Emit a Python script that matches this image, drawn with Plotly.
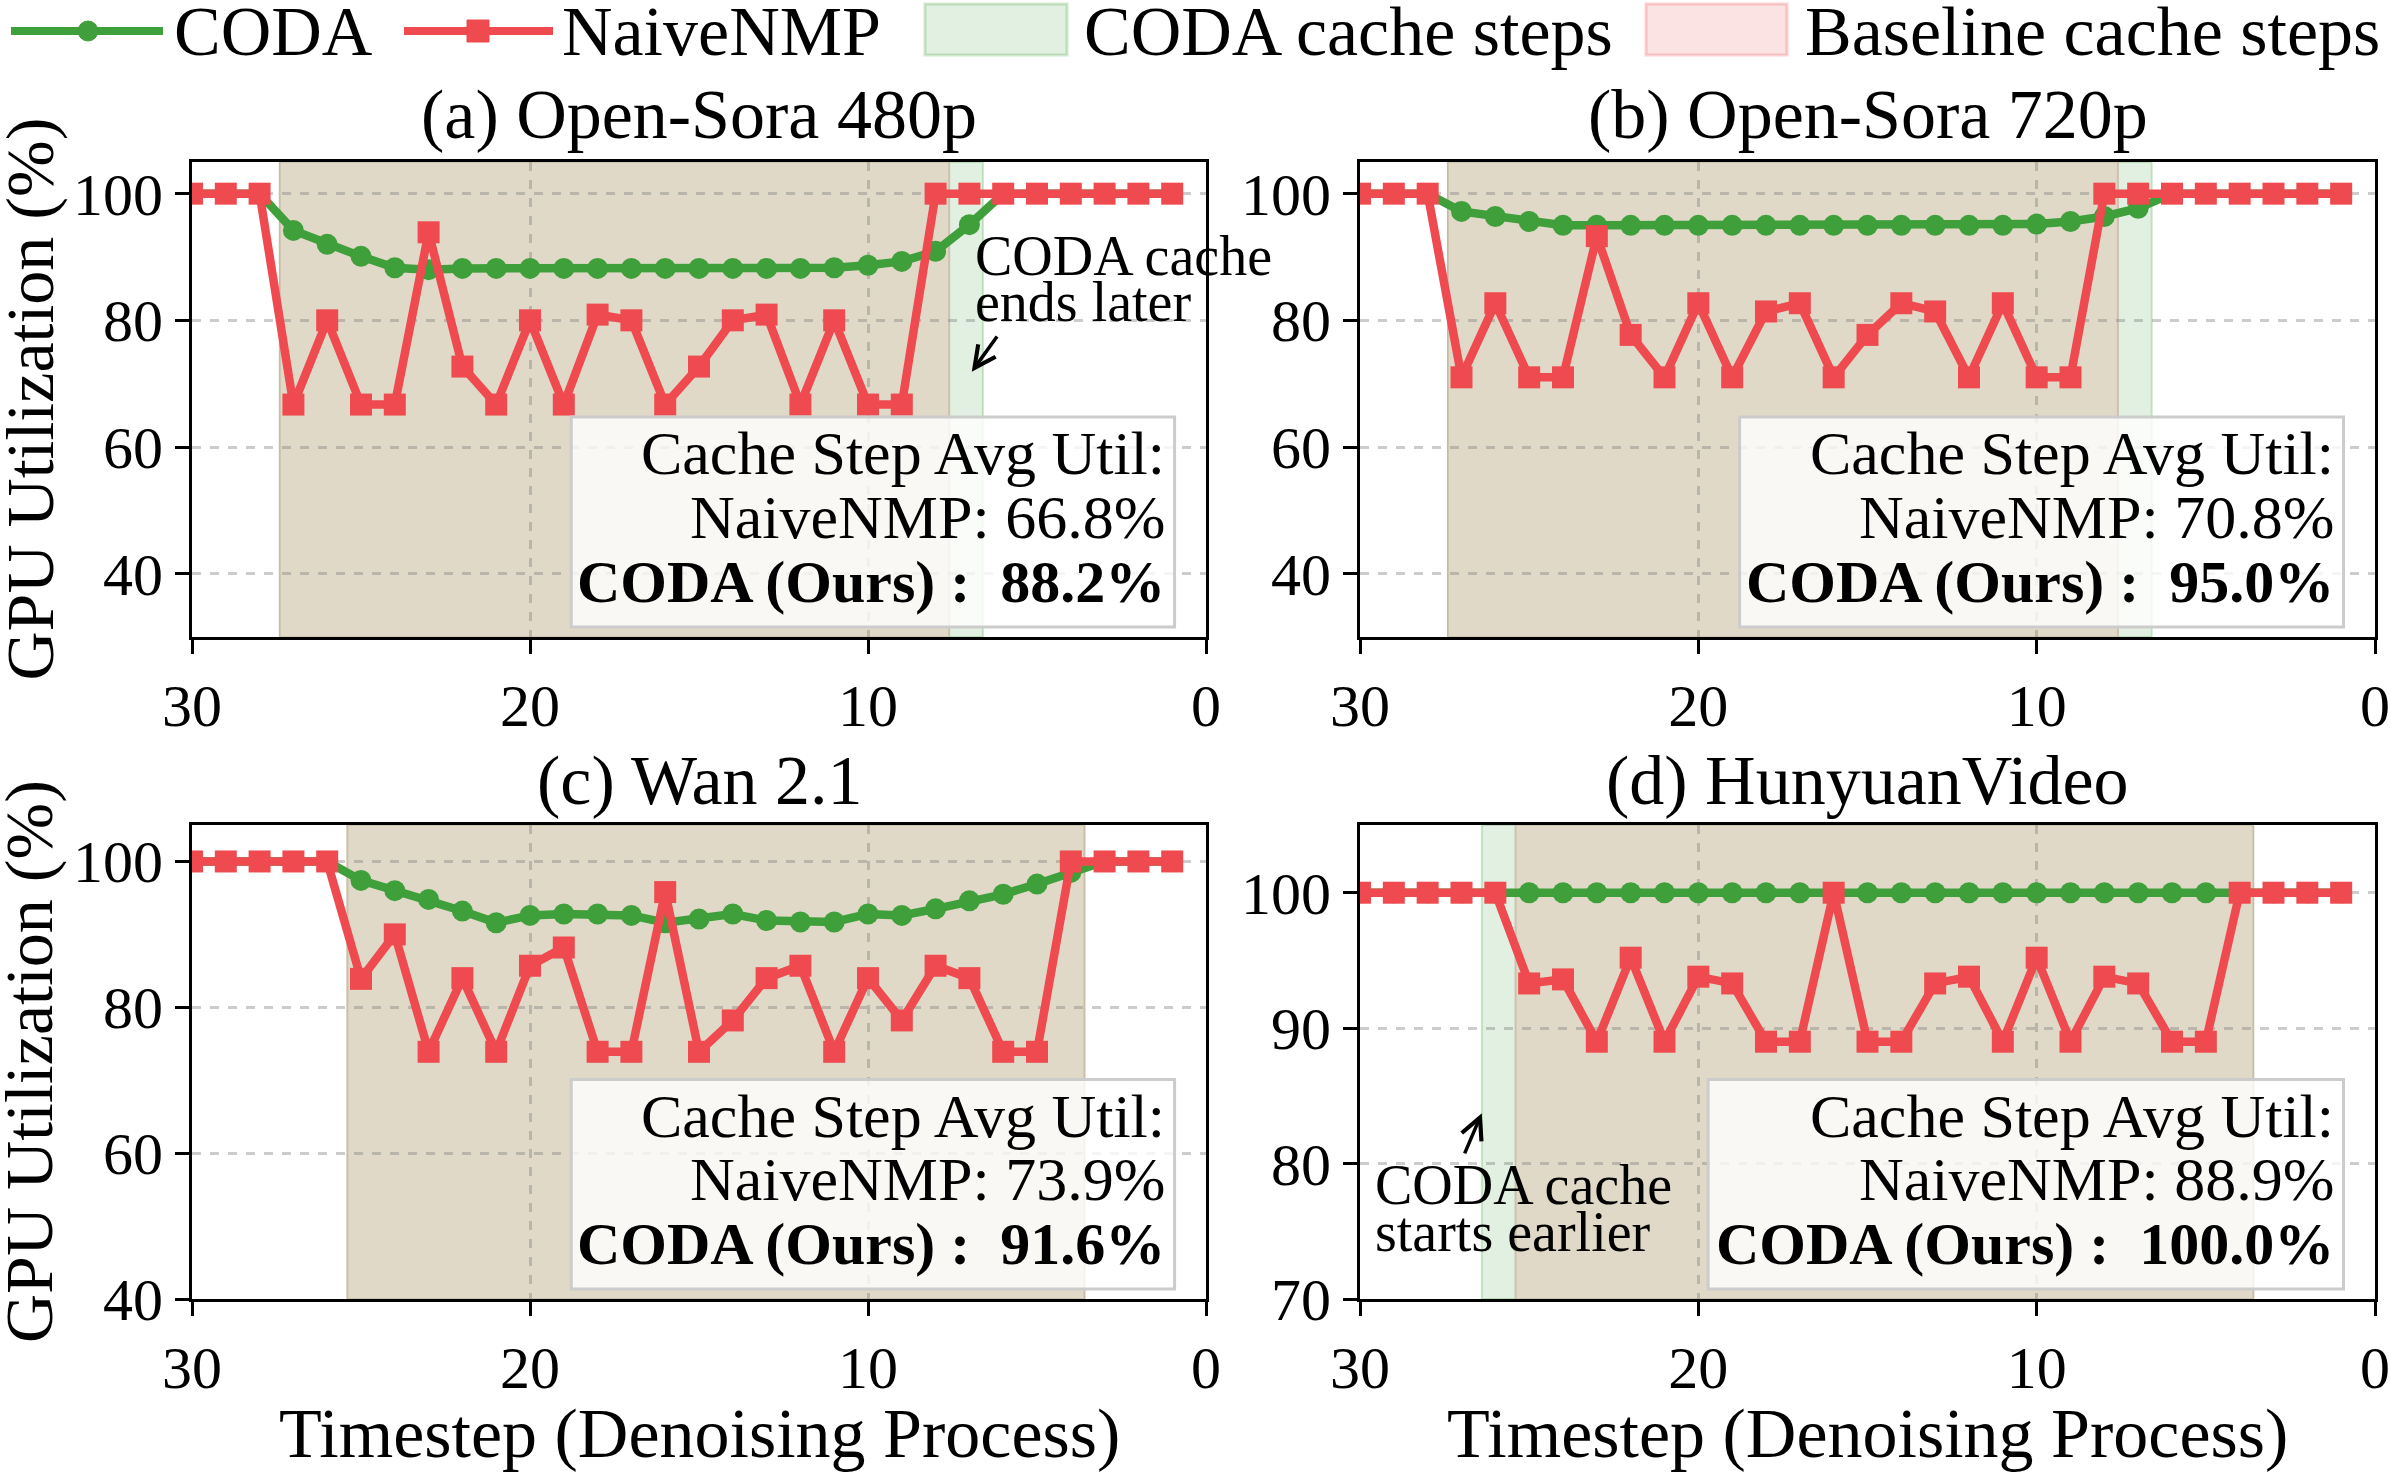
import plotly.graph_objects as go
from plotly.subplots import make_subplots

# ---------------- data ----------------
steps = [30, 29, 28, 27, 26, 25, 24, 23, 22, 21, 20, 19, 18, 17, 16,
         15, 14, 13, 12, 11, 10, 9, 8, 7, 6, 5, 4, 3, 2, 1]

coda_a = [100, 100, 100, 94.2, 92.0, 90.1, 88.3, 88.0, 88.2, 88.2, 88.2, 88.2, 88.2, 88.2, 88.2,
          88.2, 88.2, 88.2, 88.2, 88.3, 88.7, 89.3, 90.9, 95.1, 100, 100, 100, 100, 100, 100]
naive_a = [100, 100, 100, 66.7, 80.0, 66.7, 66.7, 93.9, 72.7, 66.7, 80.0, 66.7, 80.9, 80.0, 66.7,
           72.7, 80.0, 80.9, 66.7, 80.0, 66.7, 66.7, 100, 100, 100, 100, 100, 100, 100, 100]

coda_b = [100, 100, 100, 97.2, 96.4, 95.6, 95.0, 95.0, 95.0, 95.0, 95.0, 95.0, 95.0, 95.0, 95.0,
          95.0, 95.0, 95.0, 95.0, 95.0, 95.2, 95.6, 96.4, 97.7, 100, 100, 100, 100, 100, 100]
naive_b = [100, 100, 100, 71.0, 82.7, 71.0, 71.0, 93.3, 77.7, 71.0, 82.7, 71.0, 81.4, 82.7, 71.0,
           77.7, 82.7, 81.4, 71.0, 82.7, 71.0, 71.0, 100, 100, 100, 100, 100, 100, 100, 100]

coda_c = [100, 100, 100, 100, 100, 97.4, 96.0, 94.8, 93.2, 91.6, 92.6, 92.8, 92.8, 92.6, 91.6,
          92.1, 92.8, 91.9, 91.7, 91.7, 92.8, 92.6, 93.5, 94.6, 95.5, 96.9, 98.5, 100, 100, 100]
naive_c = [100, 100, 100, 100, 100, 83.9, 90.0, 73.9, 84.0, 73.9, 85.7, 88.2, 73.9, 73.9, 95.8,
           73.9, 78.2, 84.0, 85.7, 73.9, 84.0, 78.2, 85.7, 84.0, 73.9, 73.9, 100, 100, 100, 100]

coda_d = [100] * 30
naive_d = [100, 100, 100, 100, 100, 93.3, 93.6, 89.0, 95.2, 89.0, 93.8, 93.3, 89.0, 89.0, 100,
           89.0, 89.0, 93.3, 93.8, 89.0, 95.2, 89.0, 93.8, 93.3, 89.0, 89.0, 100, 100, 100, 100]

titles = ["(a) Open-Sora 480p", "(b) Open-Sora 720p", "(c) Wan 2.1", "(d) HunyuanVideo"]
baseline_spans = [(27.4, 7.6), (27.4, 7.6), (25.4, 3.6), (25.4, 3.6)]
coda_spans = [(27.4, 6.6), (27.4, 6.6), (25.4, 3.6), (26.4, 3.6)]
naive_avg = ["66.8%", "70.8%", "73.9%", "88.9%"]
coda_avg = ["88.2%", "95.0%", "91.6%", "100.0%"]
y_ranges = [(30, 105), (30, 105), (40, 105), (70, 105)]
y_ticks = [[40, 60, 80, 100], [40, 60, 80, 100], [40, 60, 80, 100], [70, 80, 90, 100]]
x_ticks = [30, 20, 10, 0]
legend_labels = ["CODA", "NaiveNMP", "CODA cache steps", "Baseline cache steps"]

# ---------------- style ----------------
W, H = 2390, 1473
FONT = "Liberation Serif, Times New Roman, serif"
GREEN = "#3f9f3a"
RED = "#ee4a4f"
GREEN_FILL = "#e1f0e1"
RED_FILL = "#fbe3e3"
OVERLAP_FILL = "#e0d9c8"

xdoms = [[192 / W, 1206 / W], [1360 / W, 2375 / W]]
ydoms = [[1 - 637 / H, 1 - 162 / H], [1 - 1299 / H, 1 - 825 / H]]

fig = make_subplots(rows=2, cols=2)

series = [(coda_a, naive_a), (coda_b, naive_b), (coda_c, naive_c), (coda_d, naive_d)]
box_left = [0.374, 0.374, 0.374, 0.343]

for i, (coda, naive) in enumerate(series):
    r, c = i // 2 + 1, i % 2 + 1
    fig.add_trace(go.Scatter(x=steps, y=coda, mode="lines+markers", name=legend_labels[0],
                             line=dict(color=GREEN, width=8.5),
                             marker=dict(symbol="circle", size=21, color=GREEN),
                             showlegend=False),
                  row=r, col=c)
    fig.add_trace(go.Scatter(x=steps, y=naive, mode="lines+markers", name=legend_labels[1],
                             line=dict(color=RED, width=8.5),
                             marker=dict(symbol="square", size=22, color=RED),
                             showlegend=False),
                  row=r, col=c)

    xa = "x" if i == 0 else f"x{i+1}"
    ya = "y" if i == 0 else f"y{i+1}"
    b0, b1 = baseline_spans[i]
    g0, g1 = coda_spans[i]
    fig.add_shape(type="rect", xref=xa, yref=f"{ya} domain", x0=g0, x1=g1, y0=0, y1=1,
                  fillcolor=GREEN_FILL, line=dict(color="rgba(67,160,60,0.25)", width=2),
                  layer="below")
    fig.add_shape(type="rect", xref=xa, yref=f"{ya} domain", x0=b0, x1=b1, y0=0, y1=1,
                  fillcolor=RED_FILL, line=dict(color="rgba(238,74,79,0.2)", width=2),
                  layer="below")
    lo_ = max(min(b0, b1), min(g0, g1))
    hi_ = min(max(b0, b1), max(g0, g1))
    if hi_ > lo_:
        fig.add_shape(type="rect", xref=xa, yref=f"{ya} domain", x0=lo_, x1=hi_, y0=0, y1=1,
                      fillcolor=OVERLAP_FILL, line=dict(color="rgba(170,160,130,0.35)", width=2),
                      layer="below")

    # info box
    fig.add_shape(type="rect", xref=f"{xa} domain", yref=f"{ya} domain",
                  x0=box_left[i], x1=0.969, y0=0.021, y1=0.463,
                  fillcolor="rgba(255,255,255,0.8)", line=dict(color="#cccccc", width=3),
                  layer="above")
    lines = ["Cache Step Avg Util:", f"NaiveNMP: {naive_avg[i]}",
             f"<b>CODA (Ours)\u00a0:\u00a0 {coda_avg[i]}</b>"]
    sizes = [62, 62, 60]
    for txt, yy, fs in zip(lines, [0.387, 0.253, 0.116], sizes):
        fig.add_annotation(xref=f"{xa} domain", yref=f"{ya} domain", x=0.962, y=yy,
                           xanchor="right", yanchor="middle", text=txt, showarrow=False,
                           font=dict(family=FONT, size=fs, color="black"))

    # subplot title
    cx = (xdoms[c - 1][0] + xdoms[c - 1][1]) / 2
    ty = (1 - 115 / H) if r == 1 else (1 - 780 / H)
    fig.add_annotation(xref="paper", yref="paper", x=cx, y=ty, text=titles[i],
                       showarrow=False, xanchor="center", yanchor="middle",
                       font=dict(family=FONT, size=70, color="black"))

    fig.update_xaxes(domain=xdoms[c - 1], range=[30, 0], tickvals=x_ticks,
                     row=r, col=c)
    fig.update_yaxes(domain=ydoms[r - 1], range=list(y_ranges[i]), tickvals=y_ticks[i],
                     row=r, col=c)

axis_style = dict(showline=True, linecolor="black", linewidth=3, mirror=True,
                  ticks="outside", ticklen=14, tickwidth=3, tickcolor="black",
                  showgrid=True, gridcolor="rgba(128,128,128,0.4)", griddash="dash",
                  gridwidth=2.5, zeroline=False, automargin=False,
                  tickfont=dict(family=FONT, size=60, color="black"))
fig.update_xaxes(**axis_style)
fig.update_yaxes(**axis_style)

# axis titles
for r in (1, 2):
    yc = (ydoms[r - 1][0] + ydoms[r - 1][1]) / 2
    fig.add_annotation(xref="paper", yref="paper", x=29 / W, y=yc, text="GPU Utilization (%)",
                       textangle=-90, showarrow=False, xanchor="center", yanchor="middle",
                       font=dict(family=FONT, size=68, color="black"))
for c in (1, 2):
    xc = (xdoms[c - 1][0] + xdoms[c - 1][1]) / 2
    fig.add_annotation(xref="paper", yref="paper", x=xc, y=1 - 1433 / H,
                       text="Timestep (Denoising Process)", showarrow=False,
                       xanchor="center", yanchor="middle",
                       font=dict(family=FONT, size=70, color="black"))

# callouts
ann_font = dict(family=FONT, size=56, color="black")
fig.add_annotation(xref="x domain", yref="y domain", x=0.770, y=0.803, text="CODA cache",
                   showarrow=False, xanchor="left", yanchor="middle", font=ann_font)
fig.add_annotation(xref="x domain", yref="y domain", x=0.770, y=0.705, text="ends later",
                   showarrow=False, xanchor="left", yanchor="middle", font=ann_font)
fig.add_annotation(xref="x domain", yref="y domain", x=0.769, y=0.5585,
                   axref="x domain", ayref="y domain", ax=0.795, ay=0.636, text="",
                   showarrow=True, arrowhead=5, arrowsize=1.2, arrowwidth=3.5, arrowcolor="black")
fig.add_annotation(xref="x4 domain", yref="y4 domain", x=0.0128, y=0.240, text="CODA cache",
                   showarrow=False, xanchor="left", yanchor="middle", font=ann_font)
fig.add_annotation(xref="x4 domain", yref="y4 domain", x=0.0128, y=0.142, text="starts earlier",
                   showarrow=False, xanchor="left", yanchor="middle", font=ann_font)
fig.add_annotation(xref="x4 domain", yref="y4 domain", x=0.120, y=0.392,
                   axref="x4 domain", ayref="y4 domain", ax=0.1025, ay=0.304, text="",
                   showarrow=True, arrowhead=5, arrowsize=1.2, arrowwidth=3.5, arrowcolor="black")

# ---------------- legend (drawn in paper pixels) ----------------
def px(x):
    return x / W

def py(y):
    return 1 - y / H

LY = 31
leg_font = dict(family=FONT, size=70, color="black")
fig.add_shape(type="line", xref="paper", yref="paper", x0=px(11), x1=px(163), y0=py(LY), y1=py(LY),
              line=dict(color=GREEN, width=8))
fig.add_shape(type="circle", xref="paper", yref="paper", x0=px(78), x1=px(98),
              y0=py(LY + 10), y1=py(LY - 10), fillcolor=GREEN, line=dict(color=GREEN, width=1))
fig.add_shape(type="line", xref="paper", yref="paper", x0=px(404), x1=px(553), y0=py(LY), y1=py(LY),
              line=dict(color=RED, width=8))
fig.add_shape(type="rect", xref="paper", yref="paper", x0=px(467), x1=px(489),
              y0=py(LY + 11), y1=py(LY - 11), fillcolor=RED, line=dict(color=RED, width=1))
fig.add_shape(type="rect", xref="paper", yref="paper", x0=px(925), x1=px(1067),
              y0=py(55), y1=py(4), fillcolor=GREEN_FILL,
              line=dict(color="rgba(67,160,60,0.25)", width=3))
fig.add_shape(type="rect", xref="paper", yref="paper", x0=px(1646), x1=px(1787),
              y0=py(55), y1=py(4), fillcolor=RED_FILL,
              line=dict(color="rgba(238,74,79,0.25)", width=3))
for lab, x_start in zip(legend_labels, [172, 560, 1082, 1803]):
    fig.add_annotation(xref="paper", yref="paper", x=px(x_start), y=py(LY), text=lab,
                       showarrow=False, xanchor="left", yanchor="middle", font=leg_font)

fig.update_layout(
    width=W, height=H, margin=dict(l=0, r=0, t=0, b=0, autoexpand=False),
    paper_bgcolor="white", plot_bgcolor="white",
    font=dict(family=FONT, size=60, color="black"),
    showlegend=False,
)

fig.write_html("out.html")
